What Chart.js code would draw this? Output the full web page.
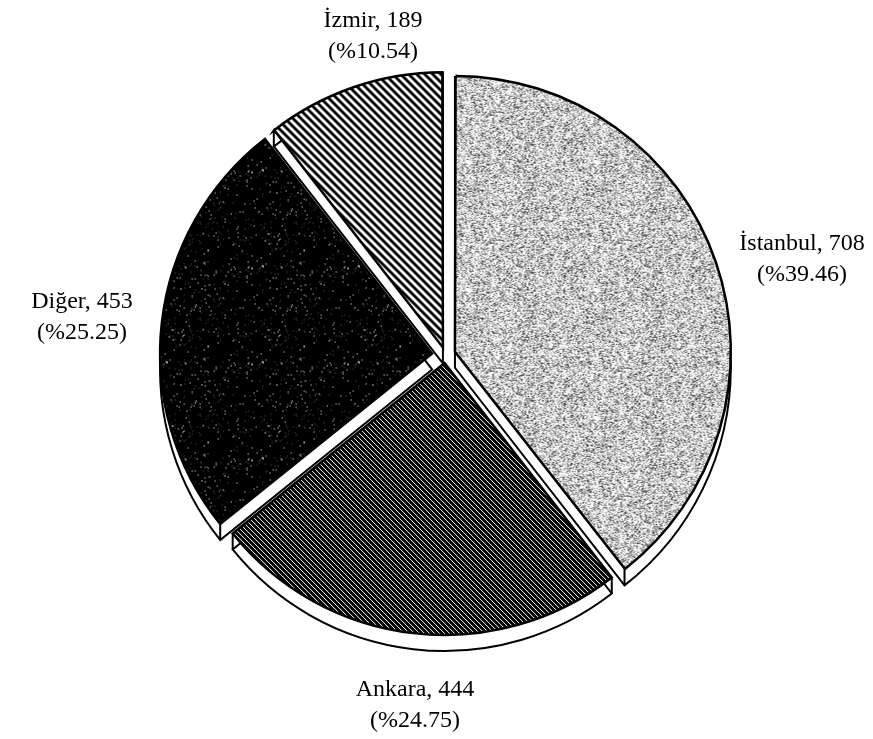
<!DOCTYPE html>
<html><head><meta charset="utf-8">
<script src="https://cdn.jsdelivr.net/npm/chart.js@4.4.1/dist/chart.umd.min.js"></script>
<style>html,body{margin:0;padding:0;background:#fff}</style>
</head><body>
<canvas id="c" width="873" height="739"></canvas>
<script>
// ---- data ----
const categories = ['İstanbul', 'Ankara', 'Diğer', 'İzmir'];
const counts = [708, 444, 453, 189];
const percents = ['%39.46', '%24.75', '%25.25', '%10.54'];

// ---- styles ----
const sliceOffsets = [40, 32, 54, 32];      // Chart.js offset (translation = offset/4)
const labelPos = [[802, 250], [415, 696], [82, 308], [373, 27]];
const labelGap = 31;
const depth = 16;
const yScale = 1;

function hash(x, y, s) {
  const v = Math.sin(x * 12.9898 + y * 78.233 + s * 37.719) * 43758.5453;
  return v - Math.floor(v);
}
function makeTile(size, fn) {
  const c = document.createElement('canvas');
  c.width = size; c.height = size;
  const g = c.getContext('2d');
  const img = g.createImageData(size, size);
  for (let y = 0; y < size; y++) for (let x = 0; x < size; x++) {
    const v = fn(x, y);
    const i = (y * size + x) * 4;
    img.data[i] = img.data[i + 1] = img.data[i + 2] = v; img.data[i + 3] = 255;
  }
  g.putImageData(img, 0, 0);
  return g.createPattern(c, 'repeat');
}
const patIstanbul = makeTile(128, (x, y) => {
  const h = hash(x, y, 1);
  const blob = hash(Math.floor(x / 8), Math.floor(y / 8), 2) * 0.2;
  const t = h - blob * 0.6;
  if (t < 0.1) return 70;
  if (t < 0.28) return 150;
  if (t < 0.52) return 205;
  return 255;
});
const patAnkara = makeTile(5, (x, y) => (((x - y) % 5 + 5) % 5) === 0 ? 255 : 0);
const patDiger = makeTile(96, (x, y) => {
  const h = hash(x, y, 3);
  if (h < 0.012) return 255;
  if (h < 0.03) return 90;
  return 0;
});
const patIzmir = makeTile(8, (x, y) => {
  const m = (((x - y) % 8) + 8) % 8;
  return m < 4 ? 0 : 255;
});

function arcGeom(a) {
  const off = (a.options.offset || 0) / 4;
  const half = (a.startAngle + a.endAngle) / 2;
  const fix = 1 - Math.sin(Math.min(Math.PI, a.circumference || 0));
  return {
    x: a.x + Math.cos(half) * off,
    y: a.y + Math.sin(half) * off,
    r: a.outerRadius + off * fix,
    s: a.startAngle, e: a.endAngle
  };
}

const pie3d = {
  id: 'pie3d',
  beforeDatasetsDraw(chart) {
    const ctx = chart.ctx;
    const meta = chart.getDatasetMeta(0);
    const cx = meta.data[0].x, cy = meta.data[0].y;
    ctx.save();
    ctx.translate(cx, cy); ctx.scale(1, yScale); ctx.translate(-cx, -cy);
    ctx.save();
    ctx.lineWidth = 2; ctx.strokeStyle = '#000'; ctx.fillStyle = '#fff';
    meta.data.forEach(a => {
      const g = arcGeom(a);
      for (let d = 0; d < depth; d += 2) {
        ctx.beginPath();
        ctx.moveTo(g.x, g.y + d);
        ctx.arc(g.x, g.y + d, g.r, g.s, g.e);
        ctx.closePath();
        ctx.fill();
      }
      ctx.beginPath();
      ctx.moveTo(g.x, g.y + depth);
      ctx.arc(g.x, g.y + depth, g.r, g.s, g.e);
      ctx.closePath();
      ctx.fill();
      ctx.stroke();
      ctx.beginPath();
      [g.s, g.e].forEach(t => {
        const px = g.x + Math.cos(t) * g.r, py = g.y + Math.sin(t) * g.r;
        ctx.moveTo(px, py); ctx.lineTo(px, py + depth);
      });
      ctx.stroke();
    });
    ctx.restore();
  },
  afterDatasetsDraw(chart) {
    chart.ctx.restore();
  },
  afterDraw(chart) {
    const ctx = chart.ctx;
    ctx.save();
    ctx.fillStyle = '#000';
    ctx.font = '24px "Liberation Serif", "Times New Roman", serif';
    ctx.textAlign = 'center';
    ctx.textBaseline = 'alphabetic';
    categories.forEach((c, i) => {
      const [x, y] = labelPos[i];
      ctx.fillText(c + ', ' + counts[i], x, y);
      ctx.fillText('(' + percents[i] + ')', x, y + labelGap);
    });
    ctx.restore();
  }
};

new Chart(document.getElementById('c'), {
  type: 'pie',
  data: {
    labels: categories,
    datasets: [{
      data: counts,
      backgroundColor: [patIstanbul, patAnkara, patDiger, patIzmir],
      borderColor: '#000',
      borderWidth: 2.5,
      offset: sliceOffsets,
      radius: 272,
      borderJoinStyle: 'miter'
    }]
  },
  options: {
    responsive: false,
    animation: false,
    layout: { padding: { left: 18, right: 0, top: 0, bottom: 29 } },
    plugins: { legend: { display: false }, tooltip: { enabled: false } }
  },
  plugins: [pie3d]
});
</script>
</body></html>
